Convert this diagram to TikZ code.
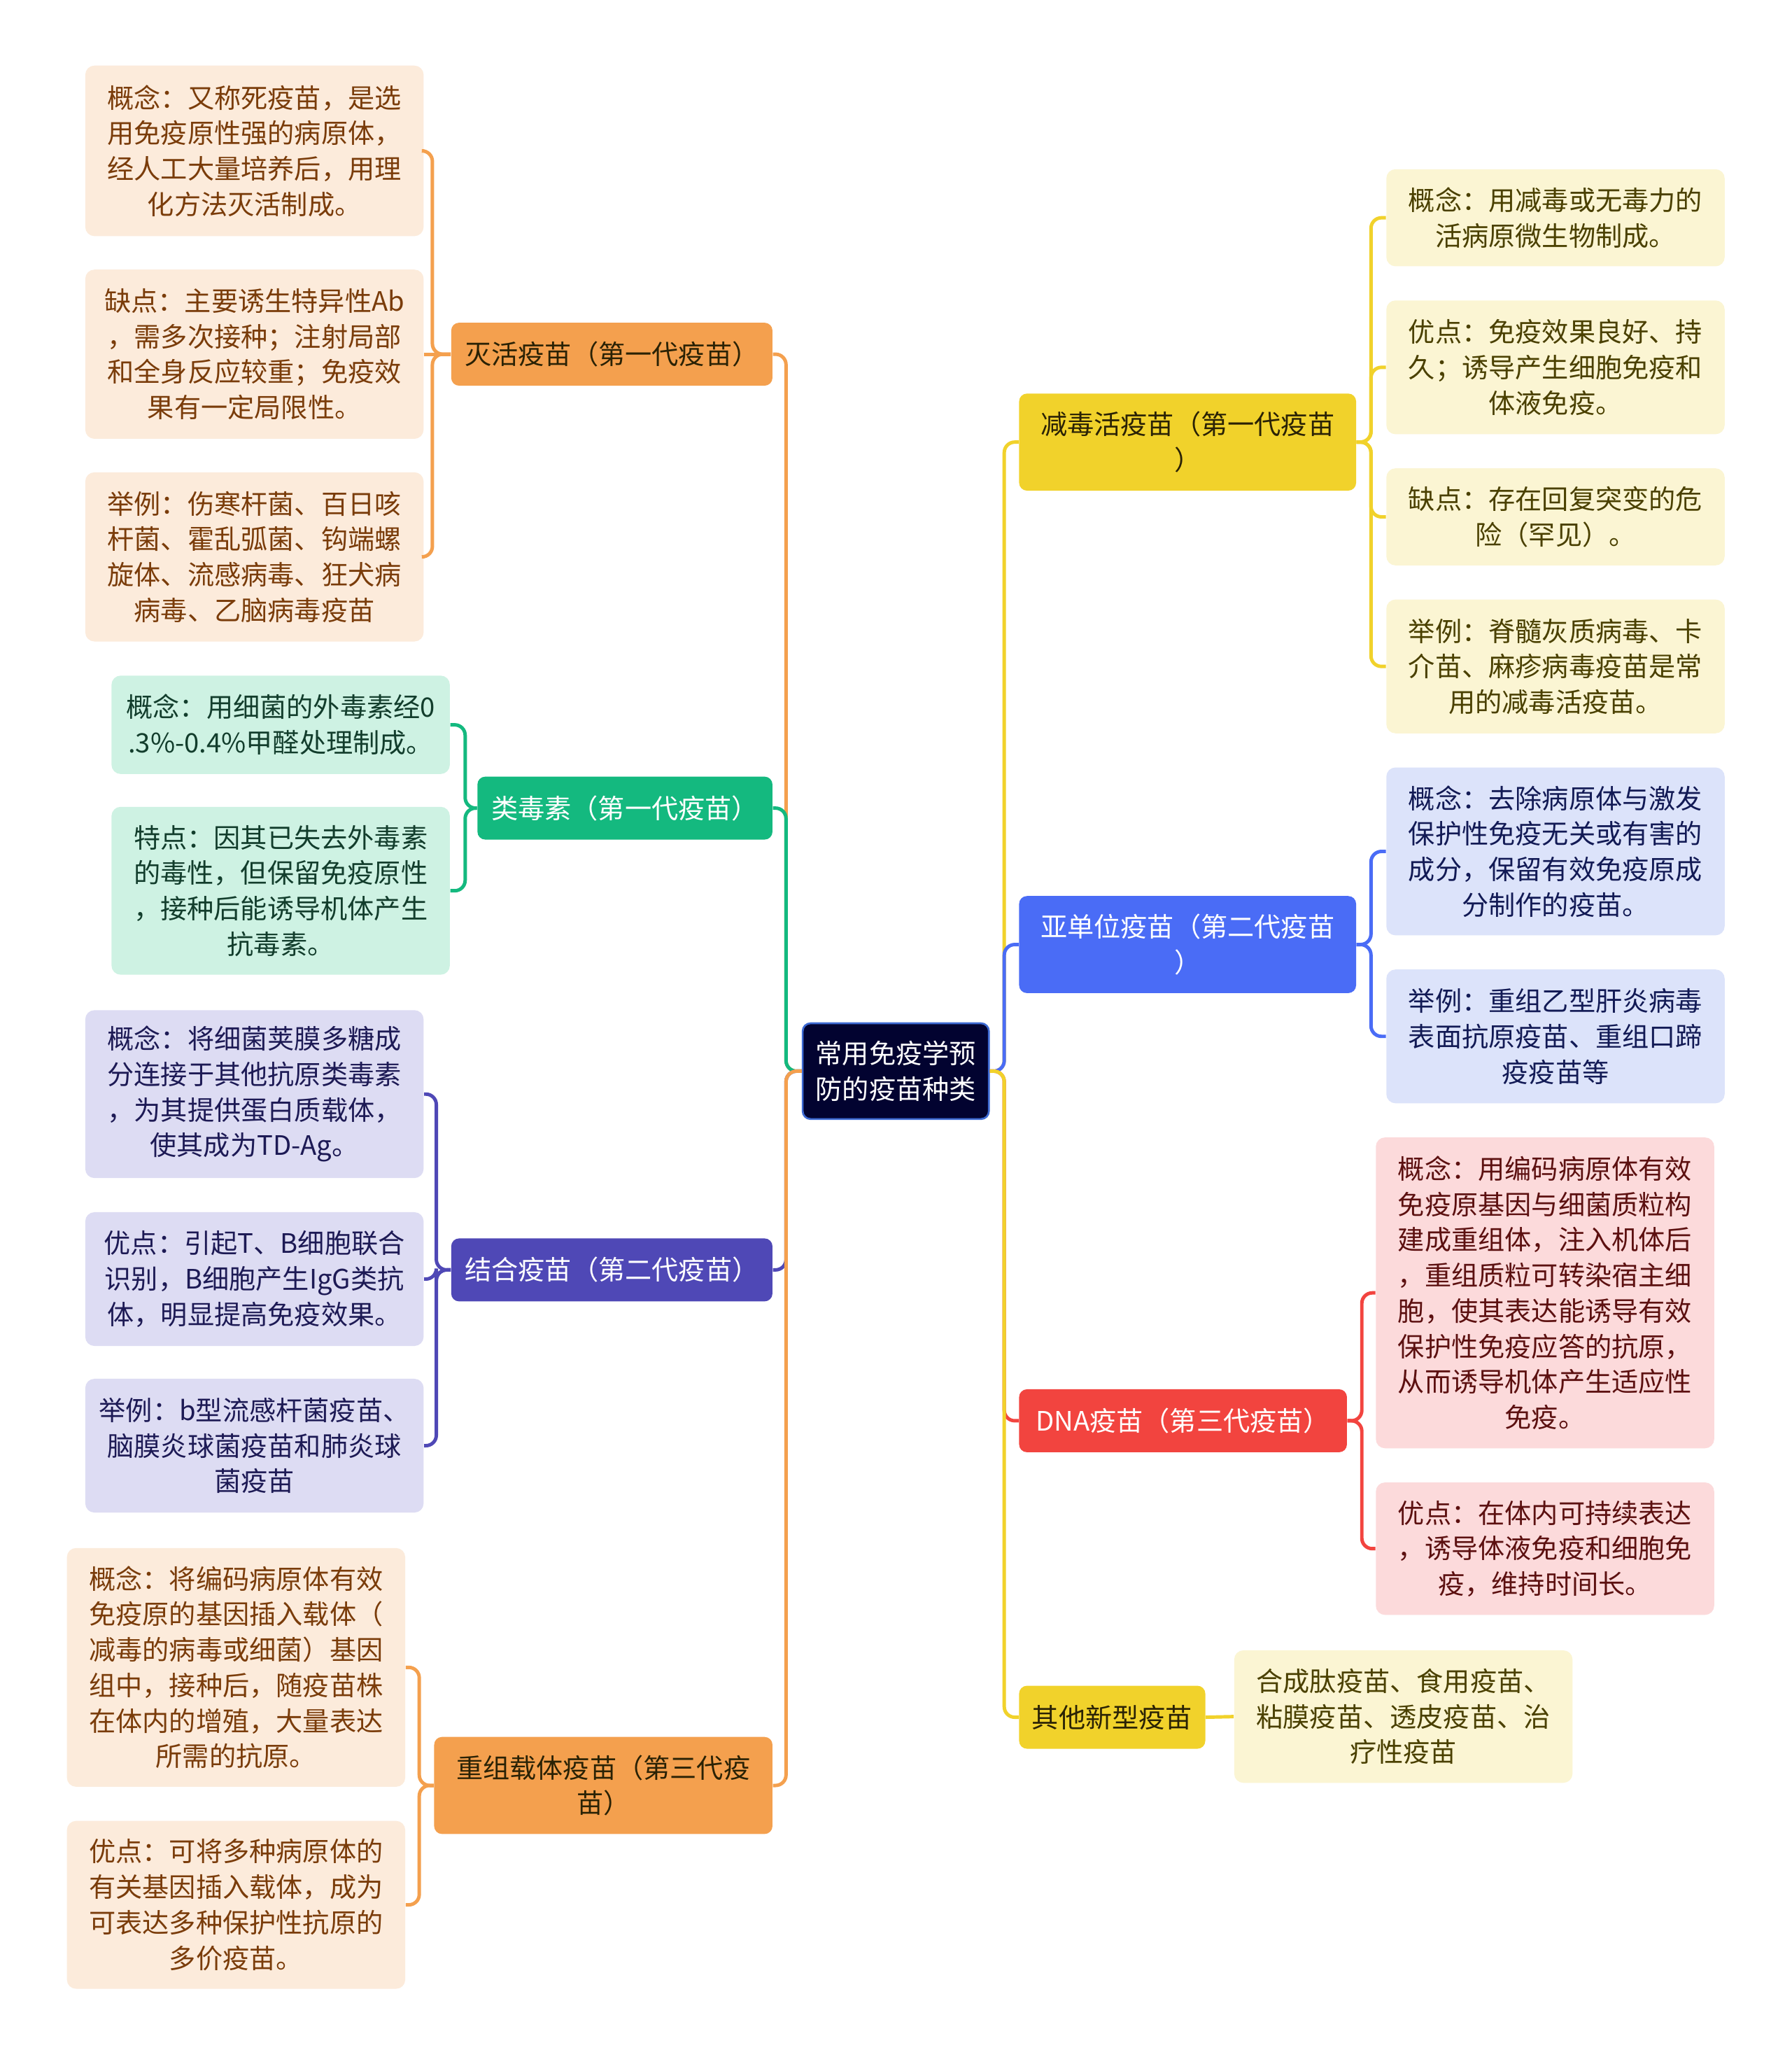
\documentclass[tikz,border=0pt]{standalone}
\usepackage{fontspec}
\setmainfont{Noto Sans CJK SC}
\definecolor{orgcolor}{HTML}{F4A04E}
\definecolor{orgleaf}{HTML}{FCEBDB}
\definecolor{orgtext}{HTML}{7A3C0A}
\definecolor{grncolor}{HTML}{14B97F}
\definecolor{grnleaf}{HTML}{CEF2E3}
\definecolor{grntext}{HTML}{123D2C}
\definecolor{prpcolor}{HTML}{4F48B6}
\definecolor{prpleaf}{HTML}{DDDCF3}
\definecolor{prptext}{HTML}{1D1A55}
\definecolor{ylwcolor}{HTML}{F1D22B}
\definecolor{ylwleaf}{HTML}{FBF5D3}
\definecolor{ylwtext}{HTML}{4A4000}
\definecolor{blucolor}{HTML}{4A6CF6}
\definecolor{bluleaf}{HTML}{DCE3FA}
\definecolor{blutext}{HTML}{121A55}
\definecolor{redcolor}{HTML}{F2443F}
\definecolor{redleaf}{HTML}{FCDADB}
\definecolor{redtext}{HTML}{5C1010}
\definecolor{rootcolor}{HTML}{020330}
\definecolor{rootline}{HTML}{3D6AD3}
\definecolor{darktext}{HTML}{2A2205}

\begin{document}
\begin{tikzpicture}[
  x=0.02cm, y=-0.02cm,
  every node/.style={font=\fontsize{11.6}{15.4}\selectfont},
  branch/.style={rounded corners=0.12cm, align=center, inner sep=0pt, minimum height=0.96cm},
  leaf/.style={rounded corners=0.14cm, align=center, inner sep=0pt, minimum width=5.16cm},
  link/.style={line width=1.5pt, rounded corners=0.16cm}
]
  \fill[white] (0,0) rectangle (1366,1568);
  \useasboundingbox (0,0) rectangle (1366,1568);

  % root
  \node[rounded corners=0.12cm, fill=rootcolor, draw=rootline, line width=0.8pt, text=white,
        align=center, minimum width=2.84cm, minimum height=1.46cm] (root) at (683,816.5)
        {常用免疫学预\\防的疫苗种类};

  % left branches
  \node[branch, fill=orgcolor, text=darktext, minimum width=4.9cm] (mieHuo) at (466.5,270) {灭活疫苗（第一代疫苗）};
  \node[branch, fill=grncolor, text=white, minimum width=4.5cm] (leiDu) at (476.5,616) {类毒素（第一代疫苗）};
  \node[branch, fill=prpcolor, text=white, minimum width=4.9cm] (jieHe) at (466.5,968) {结合疫苗（第二代疫苗）};
  \node[branch, fill=orgcolor, text=darktext, minimum width=5.16cm, minimum height=1.48cm] (chongZu) at (460,1361) {重组载体疫苗（第三代疫\\苗）};

  % right branches
  \node[branch, fill=ylwcolor, text=darktext, minimum width=5.14cm, minimum height=1.48cm] (jianDu) at (905.5,337) {减毒活疫苗（第一代疫苗\\）};
  \node[branch, fill=blucolor, text=white, minimum width=5.14cm, minimum height=1.48cm] (yaDan) at (905.5,720) {亚单位疫苗（第二代疫苗\\）};
  \node[branch, fill=redcolor, text=white, minimum width=5.0cm] (dnaVac) at (902,1083) {DNA疫苗（第三代疫苗）};
  \node[branch, fill=ylwcolor, text=darktext, minimum width=2.84cm] (qiTa) at (848,1309) {其他新型疫苗};

  % leaves of 灭活疫苗
  \node[leaf, fill=orgleaf, text=orgtext, minimum height=2.6cm] (mh1) at (194,115) {概念：又称死疫苗，是选\\用免疫原性强的病原体，\\经人工大量培养后，用理\\化方法灭活制成。};
  \node[leaf, fill=orgleaf, text=orgtext, minimum height=2.58cm] (mh2) at (194,270) {缺点：主要诱生特异性Ab\\，需多次接种；注射局部\\和全身反应较重；免疫效\\果有一定局限性。};
  \node[leaf, fill=orgleaf, text=orgtext, minimum height=2.58cm] (mh3) at (194,424.5) {举例：伤寒杆菌、百日咳\\杆菌、霍乱弧菌、钩端螺\\旋体、流感病毒、狂犬病\\病毒、乙脑病毒疫苗};

  % leaves of 类毒素
  \node[leaf, fill=grnleaf, text=grntext, minimum height=1.5cm] (ld1) at (214,552.5) {概念：用细菌的外毒素经0\\.3\%-0.4\%甲醛处理制成。};
  \node[leaf, fill=grnleaf, text=grntext, minimum height=2.56cm] (ld2) at (214,679) {特点：因其已失去外毒素\\的毒性，但保留免疫原性\\，接种后能诱导机体产生\\抗毒素。};

  % leaves of 结合疫苗
  \node[leaf, fill=prpleaf, text=prptext, minimum height=2.56cm] (jh1) at (194,834) {概念：将细菌荚膜多糖成\\分连接于其他抗原类毒素\\，为其提供蛋白质载体，\\使其成为TD-Ag。};
  \node[leaf, fill=prpleaf, text=prptext, minimum height=2.04cm] (jh2) at (194,975) {优点：引起T、B细胞联合\\识别，B细胞产生IgG类抗\\体，明显提高免疫效果。};
  \node[leaf, fill=prpleaf, text=prptext, minimum height=2.04cm] (jh3) at (194,1102) {举例：b型流感杆菌疫苗、\\脑膜炎球菌疫苗和肺炎球\\菌疫苗};

  % leaves of 重组载体疫苗
  \node[leaf, fill=orgleaf, text=orgtext, minimum height=3.64cm] (cz1) at (180,1271) {概念：将编码病原体有效\\免疫原的基因插入载体（\\减毒的病毒或细菌）基因\\组中，接种后，随疫苗株\\在体内的增殖，大量表达\\所需的抗原。};
  \node[leaf, fill=orgleaf, text=orgtext, minimum height=2.56cm] (cz2) at (180,1452) {优点：可将多种病原体的\\有关基因插入载体，成为\\可表达多种保护性抗原的\\多价疫苗。};

  % leaves of 减毒活疫苗
  \node[leaf, fill=ylwleaf, text=ylwtext, minimum height=1.48cm] (jd1) at (1186,166) {概念：用减毒或无毒力的\\活病原微生物制成。};
  \node[leaf, fill=ylwleaf, text=ylwtext, minimum height=2.04cm] (jd2) at (1186,280) {优点：免疫效果良好、持\\久；诱导产生细胞免疫和\\体液免疫。};
  \node[leaf, fill=ylwleaf, text=ylwtext, minimum height=1.48cm] (jd3) at (1186,394) {缺点：存在回复突变的危\\险（罕见）。};
  \node[leaf, fill=ylwleaf, text=ylwtext, minimum height=2.04cm] (jd4) at (1186,508) {举例：脊髓灰质病毒、卡\\介苗、麻疹病毒疫苗是常\\用的减毒活疫苗。};

  % leaves of 亚单位疫苗
  \node[leaf, fill=bluleaf, text=blutext, minimum height=2.56cm] (ya1) at (1186,649) {概念：去除病原体与激发\\保护性免疫无关或有害的\\成分，保留有效免疫原成\\分制作的疫苗。};
  \node[leaf, fill=bluleaf, text=blutext, minimum height=2.04cm] (ya2) at (1186,790) {举例：重组乙型肝炎病毒\\表面抗原疫苗、重组口蹄\\疫疫苗等};

  % leaves of DNA疫苗
  \node[leaf, fill=redleaf, text=redtext, minimum height=4.74cm] (dn1) at (1178,985.5) {概念：用编码病原体有效\\免疫原基因与细菌质粒构\\建成重组体，注入机体后\\，重组质粒可转染宿主细\\胞，使其表达能诱导有效\\保护性免疫应答的抗原，\\从而诱导机体产生适应性\\免疫。};
  \node[leaf, fill=redleaf, text=redtext, minimum height=2.02cm] (dn2) at (1178,1180.5) {优点：在体内可持续表达\\，诱导体液免疫和细胞免\\疫，维持时间长。};

  % leaf of 其他新型疫苗
  \node[leaf, fill=ylwleaf, text=ylwtext, minimum height=2.02cm] (qt1) at (1070,1308.5) {合成肽疫苗、食用疫苗、\\粘膜疫苗、透皮疫苗、治\\疗性疫苗};

  % root to branches
  \draw[link, orgcolor] (root.west) -- ++(-12,0) |- (mieHuo.east);
  \draw[link, grncolor] (root.west) -- ++(-12,0) |- (leiDu.east);
  \draw[link, prpcolor] (root.west) -- ++(-12,0) |- (jieHe.east);
  \draw[link, orgcolor] (root.west) -- ++(-12,0) |- (chongZu.east);
  \draw[link, ylwcolor] (root.east) -- ++(11,0) |- (jianDu.west);
  \draw[link, blucolor] (root.east) -- ++(11,0) |- (yaDan.west);
  \draw[link, redcolor] (root.east) -- ++(11,0) |- (dnaVac.west);
  \draw[link, ylwcolor] (root.east) -- ++(11,0) |- (qiTa.west);

  % branches to leaves
  \foreach \n in {mh1,mh3}
    \draw[link, orgcolor] (mieHuo.west) -- ++(-14,0) |- (\n.east);
  \draw[link, orgcolor] (mieHuo.west) -- (mh2.east);
  \foreach \n in {ld1,ld2}
    \draw[link, grncolor] (leiDu.west) -- ++(-9,0) |- (\n.east);
  \foreach \n in {jh1,jh2,jh3}
    \draw[link, prpcolor] (jieHe.west) -- ++(-11,0) |- (\n.east);
  \foreach \n in {cz1,cz2}
    \draw[link, orgcolor] (chongZu.west) -- ++(-11,0) |- (\n.east);
  \foreach \n in {jd1,jd2,jd3,jd4}
    \draw[link, ylwcolor] (jianDu.east) -- ++(11,0) |- (\n.west);
  \foreach \n in {ya1,ya2}
    \draw[link, blucolor] (yaDan.east) -- ++(11,0) |- (\n.west);
  \foreach \n in {dn1,dn2}
    \draw[link, redcolor] (dnaVac.east) -- ++(11,0) |- (\n.west);
  \draw[link, ylwcolor] (qiTa.east) -- (qt1.west);
\end{tikzpicture}
\end{document}
